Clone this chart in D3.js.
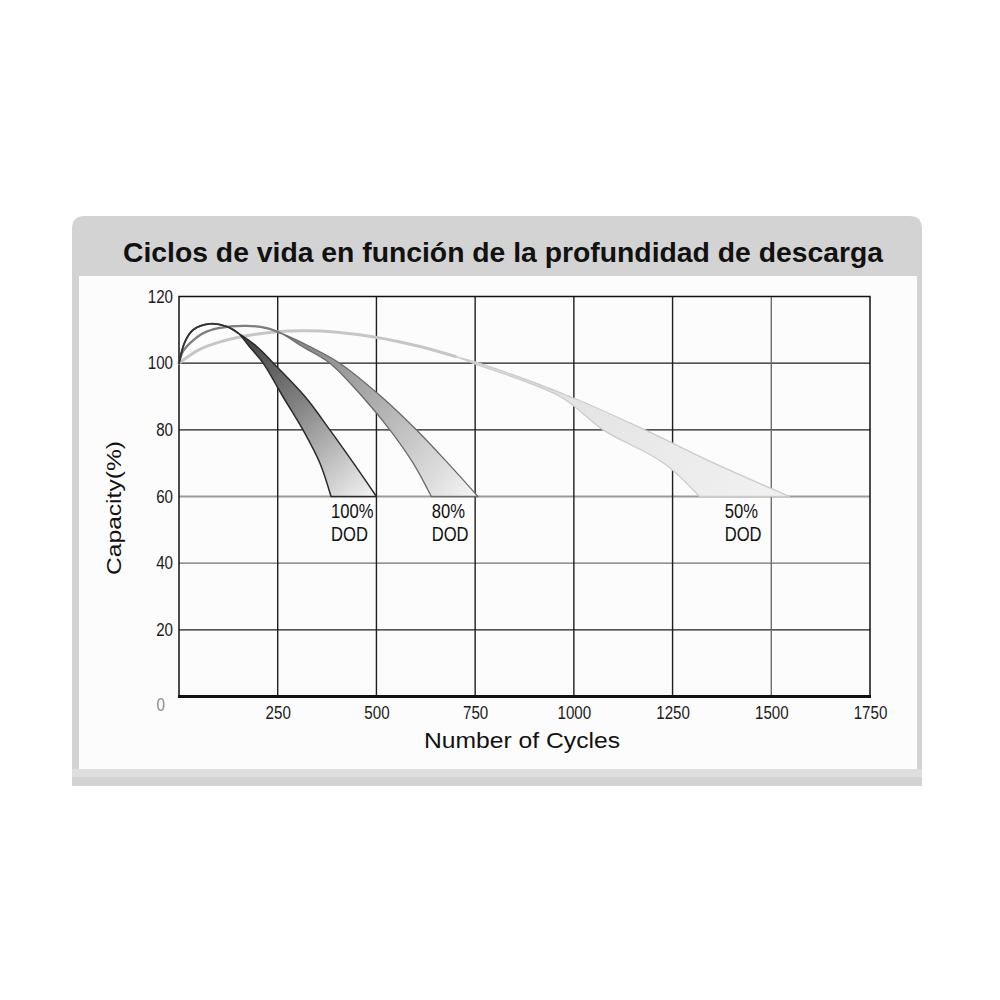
<!DOCTYPE html>
<html>
<head>
<meta charset="utf-8">
<script src="https://cdn.jsdelivr.net/npm/d3@7"></script>
<style>
  html, body { margin: 0; padding: 0; background: #fff; }
  svg { display: block; }
</style>
</head>
<body>
<svg id="chart" width="1000" height="1000"></svg>
<script>
// ==================== data ====================
const titleText = 'Ciclos de vida en función de la profundidad de descarga';
const xTitle = 'Number of Cycles';
const yTitle = 'Capacity(%)';
const xTicks = [250, 500, 750, 1000, 1250, 1500, 1750];
const yTicks = [0, 20, 40, 60, 80, 100, 120];
const dodNames = ['100%', '80%', '50%'];
const labelCycles = [385, 640, 1382];

// 100% DOD: rising part, then the band (inner = steep edge, outer = slow edge)
const rise100Cycles = [0, 15, 36, 78, 121, 150];
const rise100Values = [100, 106.4, 110, 111.8, 111, 109];
const band100Levels = [105, 100, 90, 80, 70, 60];
const band100Inner = [178, 213, 263, 314, 357, 385];
const band100Outer = [197, 239, 319, 382, 442, 500];

// 80% DOD
const rise80Cycles = [0, 10, 28, 61, 104, 171, 222, 258];
const rise80Values = [100, 103.5, 106, 109, 110.6, 111.2, 110.5, 109];
const band80Levels = [105, 100, 90, 80, 70, 60];
const band80Inner = [312, 382, 464, 534, 593, 639];
const band80Outer = [331, 407, 512, 601, 681, 757];

// 50% DOD
const rise50Cycles = [0, 50, 104, 171, 247, 320, 400, 498, 610, 700];
const rise50Values = [100, 104, 106.4, 108.2, 109.4, 109.7, 109.3, 107.8, 105, 102];
const band50Levels = [100, 90, 80, 70, 60];
const band50Inner = [745, 965, 1074, 1228, 1318];
const band50Outer = [760, 990, 1180, 1355, 1546];

// ==================== setup ====================
const svg = d3.select('#chart');
const sans = '"Liberation Sans", Arial, sans-serif';

const x = d3.scaleLinear().domain([0, 1750]).range([179, 870]);
const y = d3.scaleLinear().domain([0, 120]).range([696.5, 296.5]);

const zip = (cs, vs) => cs.map((c, i) => ({ c: c, v: vs[i] }));

// squeeze text horizontally (no narrow font installed)
function squeeze(sel, k) {
  sel.each(function() {
    const w = this.getComputedTextLength();
    d3.select(this).attr('textLength', w * k).attr('lengthAdjust', 'spacingAndGlyphs');
  });
}

const curves = [
  { name: dodNames[2], rise: zip(rise50Cycles, rise50Values),
    inner: zip(band50Inner, band50Levels), outer: zip(band50Outer, band50Levels),
    label: labelCycles[2], riseColor: '#c6c6c6', riseWidth: 3, edge: '#cbcbcb', edgeWidth: 1.3,
    stops: ['#dadada', '#e6e6e6', '#eeeeee', '#f2f2f2'] },
  { name: dodNames[1], rise: zip(rise80Cycles, rise80Values),
    inner: zip(band80Inner, band80Levels), outer: zip(band80Outer, band80Levels),
    label: labelCycles[1], riseColor: '#7e7e7e', riseWidth: 2.2, edge: '#6a6a6a', edgeWidth: 1.3,
    stops: ['#808080', '#acacac', '#dadada', '#f6f6f6'] },
  { name: dodNames[0], rise: zip(rise100Cycles, rise100Values),
    inner: zip(band100Inner, band100Levels), outer: zip(band100Outer, band100Levels),
    label: labelCycles[0], riseColor: '#333', riseWidth: 1.8, edge: '#2a2a2a', edgeWidth: 1.5,
    stops: ['#3c3c3c', '#858585', '#cdcdcd', '#f5f5f5'] }
];

// ==================== card ====================
function roundedTop(x0, y0, w, h, r) {
  return `M${x0},${y0 + h} V${y0 + r} Q${x0},${y0} ${x0 + r},${y0} H${x0 + w - r} Q${x0 + w},${y0} ${x0 + w},${y0 + r} V${y0 + h} Z`;
}
svg.append('path').attr('d', roundedTop(72, 216, 850, 570, 13)).attr('fill', '#d3d3d3');
svg.append('rect').attr('x', 72).attr('y', 769).attr('width', 850).attr('height', 8).attr('fill', '#dedede');
svg.append('rect').attr('x', 79).attr('y', 276).attr('width', 838).attr('height', 493).attr('fill', '#fcfcfc');

svg.append('text')
  .attr('x', 503).attr('y', 262)
  .attr('text-anchor', 'middle')
  .attr('textLength', 760).attr('lengthAdjust', 'spacingAndGlyphs')
  .style('font-family', sans).style('font-weight', 'bold').style('font-size', '27px')
  .style('fill', '#111')
  .text(titleText);

// ==================== grid ====================
const grid = svg.append('g');
const hStroke = v => v === 60 ? '#9a9a9a' : v === 40 ? '#707070' : '#1e1e1e';
const vStroke = c => c === 1500 ? '#6e6e6e' : '#1e1e1e';

grid.selectAll('.hline')
  .data(yTicks.filter(v => v > 0 && v < 120))
  .enter().append('line')
  .attr('x1', x(0)).attr('x2', x(1750))
  .attr('y1', d => y(d)).attr('y2', d => y(d))
  .style('stroke', hStroke)
  .style('stroke-width', d => d === 60 ? 2 : 1.4);

grid.selectAll('.vline')
  .data(xTicks.filter(c => c < 1750))
  .enter().append('line')
  .attr('x1', d => x(d)).attr('x2', d => x(d))
  .attr('y1', y(120)).attr('y2', y(0))
  .style('stroke', vStroke)
  .style('stroke-width', 1.4);

grid.append('rect')
  .attr('x', x(0)).attr('y', y(120))
  .attr('width', x(1750) - x(0)).attr('height', y(0) - y(120))
  .style('fill', 'none').style('stroke', '#111').style('stroke-width', 1.5);

grid.append('line')
  .attr('x1', x(0) - 1).attr('x2', x(1750) + 1)
  .attr('y1', y(0)).attr('y2', y(0))
  .style('stroke', '#111').style('stroke-width', 2.8);

// ==================== curves ====================
const line = d3.line().x(d => x(d.c)).y(d => y(d.v)).curve(d3.curveCatmullRom.alpha(0.5));
const defs = svg.append('defs');

curves.forEach((s, i) => {
  const split = s.rise[s.rise.length - 1];
  const outerPts = s.rise.concat(s.outer);
  const innerPts = s.rise.concat(s.inner);
  const endOuter = s.outer[s.outer.length - 1];

  const grad = defs.append('linearGradient')
    .attr('id', 'band' + i)
    .attr('gradientUnits', 'userSpaceOnUse')
    .attr('x1', x(split.c)).attr('y1', y(split.v))
    .attr('x2', x(endOuter.c)).attr('y2', y(endOuter.v));
  [0, 0.45, 0.8, 1].forEach((o, k) => {
    grad.append('stop').attr('offset', o).attr('stop-color', s.stops[k]);
  });

  const d = line(outerPts) + 'L' + line(innerPts.slice().reverse()).slice(1) + 'Z';
  svg.append('path')
    .attr('d', d)
    .style('fill', `url(#band${i})`)
    .style('stroke', s.edge)
    .style('stroke-width', s.edgeWidth)
    .style('stroke-linejoin', 'round');

  svg.append('path')
    .attr('d', line(s.rise))
    .style('fill', 'none')
    .style('stroke', s.riseColor)
    .style('stroke-width', s.riseWidth)
    .style('stroke-linecap', 'round');

  const lbl = svg.append('g')
    .style('font-family', sans).style('font-size', '20px').style('fill', '#111');
  lbl.append('text').attr('x', x(s.label)).attr('y', y(60) + 21).text(s.name);
  lbl.append('text').attr('x', x(s.label)).attr('y', y(60) + 44).text('DOD');
  squeeze(lbl.selectAll('text'), 0.83);
});

// ==================== axes ====================
const xAxis = svg.append('g')
  .attr('transform', `translate(0,${y(0)})`)
  .call(d3.axisBottom(x).tickValues(xTicks).tickFormat(d3.format('d')).tickSize(0).tickPadding(10));
xAxis.select('.domain').remove();
xAxis.selectAll('text')
  .style('font-family', sans).style('font-size', '18px').style('fill', '#1a1a1a');
squeeze(xAxis.selectAll('text'), 0.84);

const yAxis = svg.append('g')
  .attr('transform', `translate(${x(0)},0)`)
  .call(d3.axisLeft(y).tickValues(yTicks).tickFormat(d3.format('d')).tickSize(0).tickPadding(6));
yAxis.select('.domain').remove();
yAxis.selectAll('text')
  .style('font-family', sans).style('font-size', '18px').style('fill', '#1a1a1a');
yAxis.selectAll('.tick').filter(d => d === 0).select('text')
  .attr('x', -14).attr('dy', '0.75em')
  .style('fill', '#8a8a8a');
squeeze(yAxis.selectAll('text'), 0.84);

svg.append('text')
  .attr('x', 522).attr('y', 748)
  .attr('text-anchor', 'middle')
  .attr('textLength', 196).attr('lengthAdjust', 'spacingAndGlyphs')
  .style('font-family', sans).style('font-size', '22px').style('fill', '#111')
  .text(xTitle);

svg.append('text')
  .attr('transform', 'translate(121,508) rotate(-90)')
  .attr('text-anchor', 'middle')
  .attr('textLength', 134).attr('lengthAdjust', 'spacingAndGlyphs')
  .style('font-family', sans).style('font-size', '21px').style('fill', '#111')
  .text(yTitle);
</script>
</body>
</html>
